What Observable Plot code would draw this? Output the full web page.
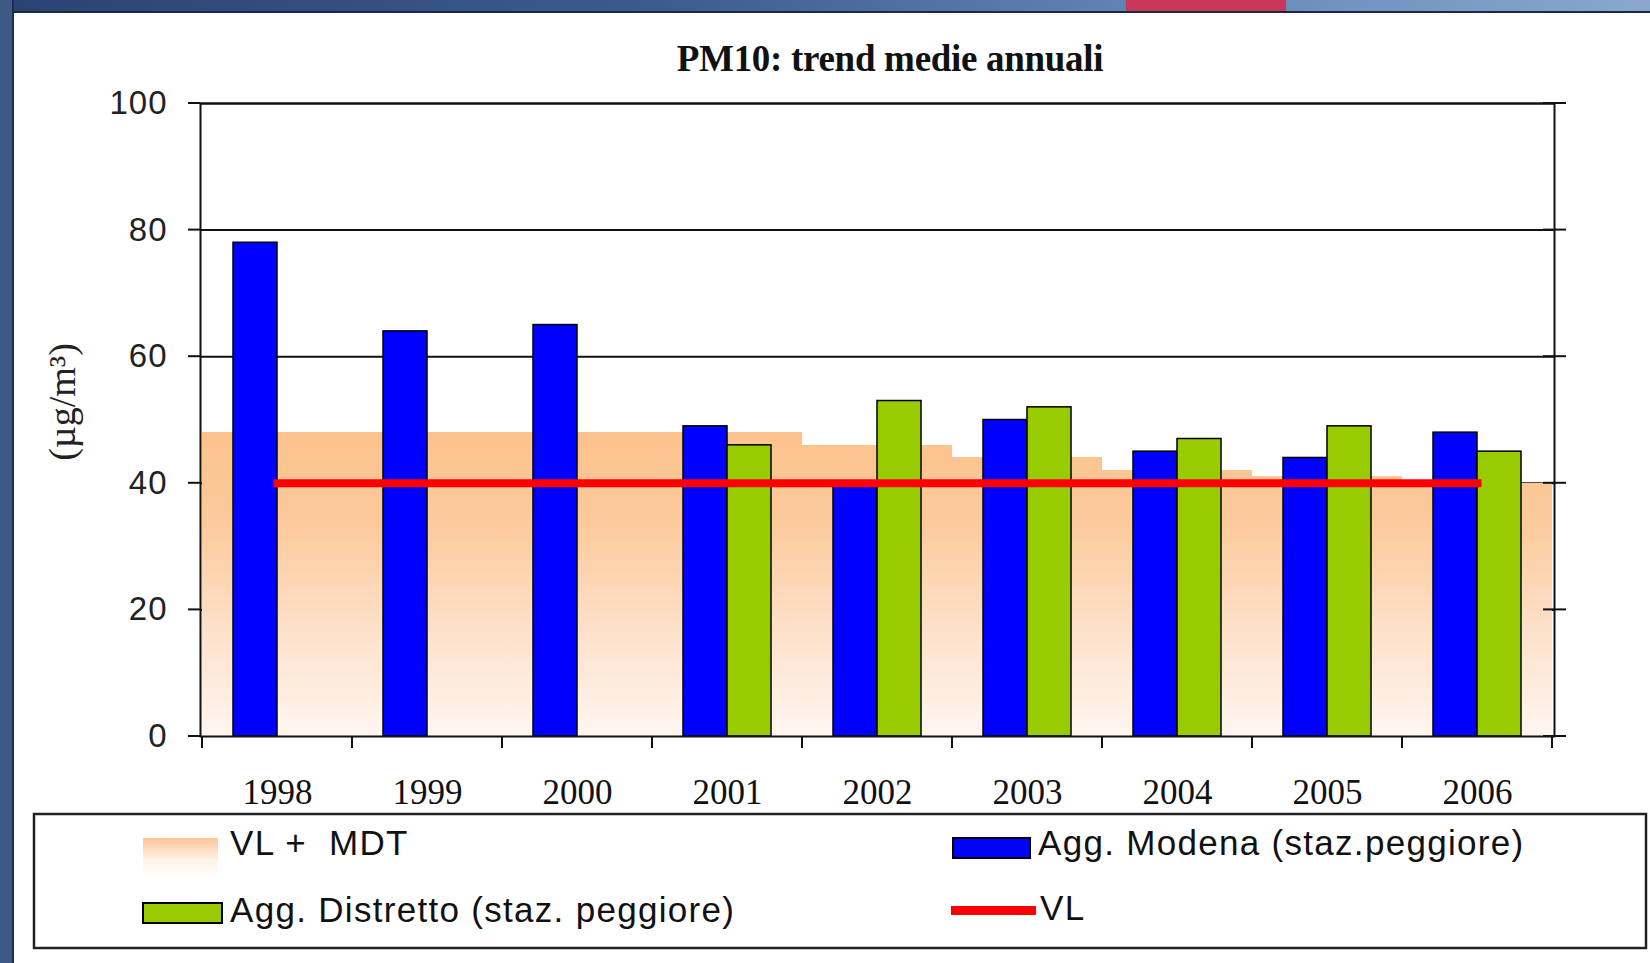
<!DOCTYPE html>
<html>
<head>
<meta charset="utf-8">
<script src="https://cdn.jsdelivr.net/npm/d3@7"></script>
<script src="https://cdn.jsdelivr.net/npm/@observablehq/plot@0.6"></script>
<style>
  html, body { margin: 0; padding: 0; background: #fff; }
  #page { position: relative; width: 1650px; height: 963px; overflow: hidden; background: #fff; }
  #chart svg { display: block; }
  #chart svg g[aria-label^="x-axis"] text {
    font-family: "Liberation Serif", "Times New Roman", serif; font-size: 35px; fill: #111;
  }
  #chart svg g[aria-label^="y-axis"] text {
    font-family: "Liberation Sans", Arial, sans-serif; font-size: 33px; letter-spacing: 1px; fill: #222;
  }
  #title {
    position: absolute; left: 890px; top: 40px; transform: translateX(-50%);
    font-family: "Liberation Serif", "Times New Roman", serif; font-weight: bold;
    font-size: 37px; line-height: 1; color: #111; white-space: nowrap; letter-spacing: -0.3px;
  }
  #topbar { position: absolute; left: 0; top: 0; width: 1650px; height: 11px;
    background: linear-gradient(to right, #2a4371 0%, #3c5b8e 40%, #6688b8 72%, #8aa8cd 100%);
    border-bottom: 2px solid #1b2a44; }
  #pink { position: absolute; left: 1126px; top: 0; width: 160px; height: 11px; background: #c8375a; }
  #leftbar { position: absolute; left: 0; top: 0; width: 12px; height: 963px; background: #3d5986;
    border-right: 2px solid #1e2d48; }
  #legend text { font-family: "Liberation Sans", Arial, sans-serif; font-size: 35px; letter-spacing: 1.3px; fill: #111; }
</style>
</head>
<body>
<div id="page">
  <div id="chart"></div>
  <div id="legendWrap"></div>
  <div id="title">PM10: trend medie annuali</div>
  <div id="topbar"></div>
  <div id="pink"></div>
  <div id="leftbar"></div>
</div>
<script>
// ---------------- data ----------------
const years = ["1998", "1999", "2000", "2001", "2002", "2003", "2004", "2005", "2006"];
const modena = [78, 64, 65, 49, 40, 50, 45, 44, 48];          // Agg. Modena (staz.peggiore)
const distretto = [null, null, null, 46, 53, 52, 47, 49, 45];  // Agg. Distretto (staz. peggiore)
const vlMdt = [48, 48, 48, 48, 46, 44, 42, 41, 40];            // VL + MDT
const vl = [40, 40, 40, 40, 40, 40, 40, 40, 40];               // VL
const yTicks = [0, 20, 40, 60, 80, 100];

const seriesNames = {
  vlMdt: "VL +  MDT",
  modena: "Agg. Modena (staz.peggiore)",
  distretto: "Agg. Distretto (staz. peggiore)",
  vl: "VL"
};
const yLabel = "(µg/m³)";

// tables built from arrays
const modenaData = years.map((y, i) => ({year: y, value: modena[i]}));
const distrettoData = years.map((y, i) => ({year: y, value: distretto[i]})).filter(d => d.value != null);
const vlMdtData = years.map((y, i) => ({year: y, value: vlMdt[i]}));
const vlData = years.map((y, i) => ({year: y, value: vl[i]}));

const BLUE = "#0000ff", GREEN = "#99cc00", RED = "#ff0000";

// gradient definition for the VL + MDT area (uses y scale)
const gradientDefs = (index, scales) => {
  const defs = d3.create("svg:defs");
  const lg = defs.append("linearGradient").attr("id", "vlmdtGrad").attr("x1", 0).attr("x2", 0);
  if (scales && scales.y) {
    lg.attr("gradientUnits", "userSpaceOnUse")
      .attr("y1", scales.y(d3.max(vlMdt))).attr("y2", scales.y(0));
  } else {
    lg.attr("y1", 0).attr("y2", 1);
  }
  [[0, "#fbc28c"], [0.3, "#fcca9b"], [0.65, "#fde1ca"], [1, "#fff6f0"]].forEach(([o, c]) =>
    lg.append("stop").attr("offset", o).attr("stop-color", c));
  return defs.node();
};

// tick marks: left (outward), right (crossing), x band edges (downward)
const axisDecor = (index, scales, values, dims) => {
  const {x, y} = scales;
  const bw = typeof x.bandwidth === "function" ? x.bandwidth() : x.bandwidth;
  const left = dims.marginLeft, right = dims.width - dims.marginRight;
  const g = d3.create("svg:g").attr("stroke", "#111").attr("stroke-width", 2);
  for (const t of yTicks) {
    g.append("line").attr("x1", left - 12).attr("x2", left).attr("y1", y(t)).attr("y2", y(t));
    g.append("line").attr("x1", right - 11).attr("x2", right + 12).attr("y1", y(t)).attr("y2", y(t));
  }
  const edges = years.map(v => x(v)).concat([x(years[years.length - 1]) + bw]);
  for (const e of edges) {
    g.append("line").attr("x1", e).attr("x2", e).attr("y1", y(0)).attr("y2", y(0) + 12);
  }
  return g.node();
};

const chart = Plot.plot({
  width: 1650,
  height: 812,
  marginLeft: 200,
  marginRight: 96,
  marginTop: 103,
  marginBottom: 76,
  style: {background: "#fff", fontFamily: "Liberation Sans, Arial, sans-serif", fontSize: "33px", overflow: "visible"},
  x: {domain: years, padding: 0, tickSize: 0, tickPadding: 43, label: null},
  y: {domain: [0, 100], ticks: 5, tickSize: 0, tickPadding: 33, label: null},
  marks: [
    gradientDefs,
    Plot.ruleY(yTicks.filter(t => t > 0), {stroke: "#111", strokeWidth: 2}),
    Plot.barY(vlMdtData, {x: "year", y: "value", fill: "url(#vlmdtGrad)", inset: 0, shapeRendering: "crispEdges"}),
    Plot.barY(modenaData, {x: "year", y: "value", fill: BLUE, stroke: "#000", strokeWidth: 1.5, insetLeft: 31, insetRight: 75}),
    Plot.barY(distrettoData, {x: "year", y: "value", fill: GREEN, stroke: "#000", strokeWidth: 1.5, insetLeft: 75, insetRight: 31}),
    Plot.line(vlData, {x: "year", y: "value", stroke: RED, strokeWidth: 8, strokeLinecap: "square"}),
    Plot.frame({stroke: "#111", strokeWidth: 2}),
    axisDecor,
    Plot.text([yLabel], {frameAnchor: "left", textAnchor: "middle", dx: -138, dy: -18, rotate: -90,
      text: d => d, fontFamily: "Liberation Serif, Times New Roman, serif", fontSize: 38, fill: "#222"})
  ]
});
document.getElementById("chart").appendChild(chart);

// ---------------- legend ----------------
const leg = d3.create("svg").attr("id", "legend").attr("width", 1650).attr("height", 151)
  .style("display", "block");
const ldefs = leg.append("defs");
const lgl = ldefs.append("linearGradient").attr("id", "legGrad").attr("x1", 0).attr("x2", 0).attr("y1", 0).attr("y2", 1);
[[0, "#fcc59a"], [0.55, "#fff3e6"], [1, "#ffffff"]].forEach(([o, c]) => lgl.append("stop").attr("offset", o).attr("stop-color", c));

leg.append("rect").attr("x", 34).attr("y", 2).attr("width", 1612).attr("height", 134)
  .attr("fill", "#fff").attr("stroke", "#222").attr("stroke-width", 2.5);

leg.append("rect").attr("x", 143).attr("y", 26).attr("width", 75).attr("height", 40).attr("fill", "url(#legGrad)");
leg.append("text").attr("x", 230).attr("y", 43).attr("xml:space", "preserve").style("white-space", "pre").text(seriesNames.vlMdt);

leg.append("rect").attr("x", 953).attr("y", 26).attr("width", 77).attr("height", 20)
  .attr("fill", BLUE).attr("stroke", "#000").attr("stroke-width", 2);
leg.append("text").attr("x", 1038).attr("y", 43).text(seriesNames.modena);

leg.append("rect").attr("x", 143).attr("y", 91).attr("width", 79).attr("height", 20)
  .attr("fill", GREEN).attr("stroke", "#000").attr("stroke-width", 2);
leg.append("text").attr("x", 230).attr("y", 110).text(seriesNames.distretto);

leg.append("line").attr("x1", 951).attr("x2", 1036).attr("y1", 98.5).attr("y2", 98.5)
  .attr("stroke", RED).attr("stroke-width", 9);
leg.append("text").attr("x", 1040).attr("y", 108).text(seriesNames.vl);

document.getElementById("legendWrap").appendChild(leg.node());
</script>
</body>
</html>
